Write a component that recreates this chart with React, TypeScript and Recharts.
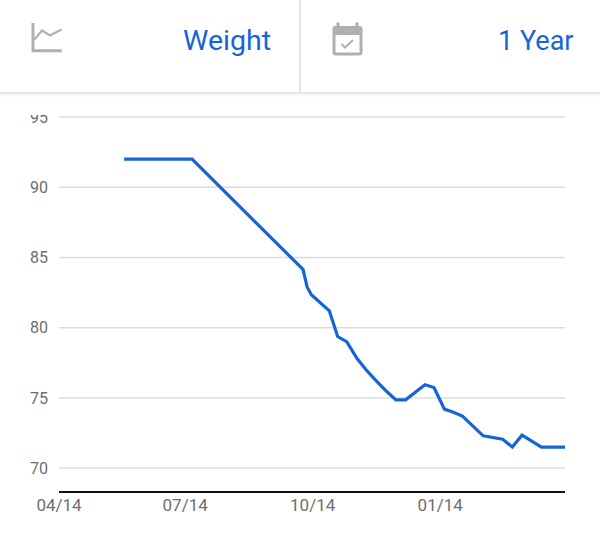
import React from 'react';
import { LineChart, Line, XAxis, YAxis, CartesianGrid } from 'recharts';

// days since 04/14 (start of the one-year window)
const dayOffsets = [47, 96, 176, 179, 182, 195, 201, 207.5, 215, 221.5, 229, 237, 243, 250, 264, 270.5, 278, 284.5, 291, 306, 320, 327, 334, 348, 365];
const weights = [92, 92, 84.15, 82.9, 82.35, 81.2, 79.37, 79.0, 77.8, 77.0, 76.2, 75.4, 74.86, 74.86, 75.93, 75.74, 74.2, 73.98, 73.7, 72.3, 72.06, 71.5, 72.35, 71.5, 71.5];

const xTickDays = [0, 91, 183, 275];
const xTickLabels = ['04/14', '07/14', '10/14', '01/14'];
const yTicks = [70, 75, 80, 85, 90, 95];

const data = dayOffsets.map((d, i) => ({ day: d, weight: weights[i] }));

const BLUE = '#1565D8';
const ICON = '#b0b0b0';

export default function App() {
  const fmtX = (v: number) => {
    const i = xTickDays.indexOf(v);
    return i >= 0 ? xTickLabels[i] : '';
  };
  return (
    <div style={{ position: 'absolute', left: 0, top: 0, width: 600, height: 556, background: '#fff', overflow: 'hidden', fontFamily: 'Roboto, sans-serif' }}>
      <div style={{ position: 'absolute', left: 0, top: 0 }}>
        <LineChart width={600} height={556} data={data} margin={{ top: 117, right: 35, bottom: 34, left: 0 }}>
          <CartesianGrid horizontal vertical={false} stroke="#dcdcdc" strokeWidth={1.5} />
          <XAxis
            dataKey="day"
            type="number"
            domain={[0, 365]}
            ticks={xTickDays}
            tickFormatter={fmtX}
            height={30}
            axisLine={{ stroke: '#111', strokeWidth: 2 }}
            tickLine={false}
            tickMargin={1}
            tick={{ fill: '#6e6e6e', fontSize: 17, fontFamily: 'Roboto' }}
          />
          <YAxis
            type="number"
            domain={[68.3, 95]}
            ticks={yTicks}
            width={59}
            axisLine={false}
            tickLine={false}
            tickMargin={5}
            tick={{ fill: '#6e6e6e', fontSize: 16, fontFamily: 'Roboto' }}
          />
          <Line
            type="linear"
            dataKey="weight"
            stroke={BLUE}
            strokeWidth={3.2}
            dot={false}
            isAnimationActive={false}
          />
        </LineChart>
      </div>
      {/* white strip clipping the top of the chart */}
      <div style={{ position: 'absolute', left: 0, top: 0, width: 600, height: 115, background: '#fff' }} />
      {/* header */}
      <div style={{ position: 'absolute', left: 0, top: 0, width: 600, height: 92, background: '#fff', boxShadow: '0 2px 3px rgba(0,0,0,0.13)' }}>
        <svg width={600} height={92} style={{ display: 'block' }}>
          <line x1={300} y1={0} x2={300} y2={92} stroke="#dddddd" strokeWidth={1.5} />
          {/* chart icon */}
          <path d="M33 23 V50.8 H61.7" fill="none" stroke={ICON} strokeWidth={3} />
          <polyline points="34.5,39.5 42,30.5 50,35.5 61.5,29.5" fill="none" stroke={ICON} strokeWidth={2.2} />
          <text x={271} y={50} textAnchor="end" fontFamily="Roboto" fontSize={28.5} fill={BLUE}>Weight</text>
          {/* calendar icon */}
          <rect x={332.5} y={26} width={30} height={29.5} rx={3} fill={ICON} />
          <rect x={335.5} y={35} width={24} height={17.5} fill="#fff" />
          <rect x={336.5} y={22.5} width={3} height={6} fill={ICON} />
          <rect x={355.5} y={22.5} width={3} height={6} fill={ICON} />
          <polyline points="341.5,44 345,47.5 353,40" fill="none" stroke={ICON} strokeWidth={2} />
          <text x={573.5} y={50} textAnchor="end" fontFamily="Roboto" fontSize={27} fill={BLUE}>1 Year</text>
        </svg>
      </div>
    </div>
  );
}
